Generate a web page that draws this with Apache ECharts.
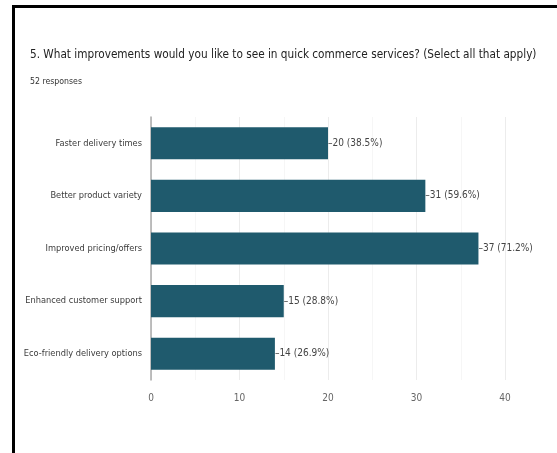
<!DOCTYPE html>
<html>
<head>
<meta charset="utf-8">
<script src="https://cdn.jsdelivr.net/npm/echarts@6/dist/echarts.min.js"></script>
<style>
  html, body { margin: 0; padding: 0; background: #fff; }
  #chart { width: 557px; height: 453px; }
</style>
</head>
<body>
<div id="chart"></div>
<script>
// Survey question, answer options and counts
const titleText = '5. What improvements would you like to see in quick commerce services? (Select all that apply)';
const subtitleText = '52 responses';
const categories = [
  'Faster delivery times',
  'Better product variety',
  'Improved pricing/offers',
  'Enhanced customer support',
  'Eco-friendly delivery options'
];
const counts = [20, 31, 37, 15, 14];
const percents = ['38.5%', '59.6%', '71.2%', '28.8%', '26.9%'];
const xTicks = [0, 10, 20, 30, 40];

// narrow face: the font-stretch keyword goes into the canvas font shorthand
const FONT = '"DejaVu Sans", sans-serif';
const STRETCH = 'condensed';

const chart = echarts.init(document.getElementById('chart'), null, { renderer: 'canvas' });

chart.setOption({
  backgroundColor: '#ffffff',
  animation: false,
  title: [
    {
      text: titleText,
      left: 30, top: 49, padding: 0,
      textStyle: { fontFamily: FONT, fontStyle: STRETCH, fontSize: 11.7, fontWeight: 'normal', color: '#222' }
    },
    {
      text: subtitleText,
      left: 30, top: 77, padding: 0,
      textStyle: { fontFamily: FONT, fontStyle: STRETCH, fontSize: 8.7, fontWeight: 'normal', color: '#333' }
    }
  ],
  graphic: [
    {
      type: 'rect',
      shape: { x: 13.5, y: 6.5, width: 600, height: 500 },
      style: { fill: 'none', stroke: '#000', lineWidth: 3 },
      silent: true
    }
  ],
  grid: { left: 151, top: 117, width: 354, height: 263 },
  xAxis: {
    type: 'value',
    min: xTicks[0],
    max: xTicks[xTicks.length - 1],
    interval: 10,
    axisLine: { show: false },
    axisTick: { show: false },
    axisLabel: { fontFamily: FONT, fontStyle: STRETCH, fontSize: 10, color: '#666', margin: 13 },
    splitLine: { show: true, lineStyle: { color: '#ececec', width: 1 } },
    minorTick: { show: false, splitNumber: 2 },
    minorSplitLine: { show: true, lineStyle: { color: '#f6f6f6', width: 1 } }
  },
  yAxis: {
    type: 'category',
    inverse: true,
    data: categories,
    axisLine: { show: true, lineStyle: { color: '#aaa', width: 1.5 } },
    axisTick: { show: false },
    axisLabel: { fontFamily: FONT, fontStyle: STRETCH, fontSize: 9.2, color: '#3a3a3a', margin: 9 }
  },
  series: [
    {
      type: 'bar',
      data: counts,
      barCategoryGap: '39%',
      itemStyle: { color: '#1f5a6d' },
      label: {
        show: true,
        position: 'right',
        distance: 0,
        fontFamily: FONT,
        fontStyle: STRETCH,
        fontSize: 10,
        color: '#444',
        formatter: p => '\u2013' + p.value + ' (' + percents[p.dataIndex] + ')'
      }
    }
  ]
});
</script>
</body>
</html>
